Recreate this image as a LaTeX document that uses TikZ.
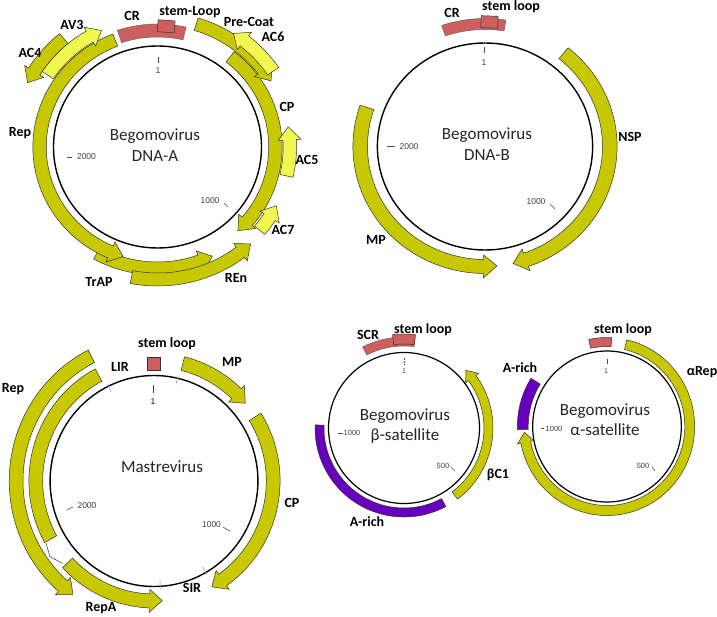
\documentclass[tikz,border=0pt]{standalone}
\usepackage{fontspec}
\setmainfont{Carlito}
\newfontfamily\numfont{Liberation Sans}
\definecolor{geneY}{RGB}{200,200,0}
\definecolor{geneL}{RGB}{240,248,80}
\definecolor{crRed}{RGB}{205,95,95}
\definecolor{aRich}{RGB}{102,0,190}
\def\ghead{13}
\def\gwing{4.5}
\newcommand\garrow[5]{%
  \pgfmathsetmacro\gRm{((#2)+(#3))/2}%
  \pgfmathsetmacro\gS{((#5)>(#4))?1:-1}%
  \pgfmathsetmacro\gC{(#5)-(\gS)*(\ghead)/(\gRm)*57.29578}%
  \pgfmathsetmacro\gIn{(#2)-(\gwing)}%
  \pgfmathsetmacro\gOut{(#3)+(\gwing)}%
  \draw[#1] (#4:#2) arc[start angle=#4,end angle=\gC,radius=#2] -- (\gC:\gIn) -- (#5:\gRm) -- (\gC:\gOut) -- (\gC:#3) arc[start angle=\gC,end angle=#4,radius=#3] -- cycle;}
\newcommand\gband[5]{%
  \draw[#1] (#4:#2) arc[start angle=#4,end angle=#5,radius=#2] -- (#5:#3) arc[start angle=#5,end angle=#4,radius=#3] -- cycle;}
\begin{document}
\begin{tikzpicture}[x=1pt,y=1pt,
 lab/.style={font=\fontsize{14}{16}\selectfont\bfseries,inner sep=0pt},
 ctr/.style={font=\fontsize{17}{21}\selectfont,text=black!85,align=center,inner sep=0pt},
 num/.style={font=\numfont\fontsize{8.5}{10}\selectfont,text=black!75,inner sep=0pt},
 gene/.style={fill=geneY,draw=black!80,line width=0.5pt},
 lgene/.style={fill=geneL,draw=black!80,line width=0.5pt},
 redf/.style={fill=crRed,draw=black!60,line width=0.5pt},
 arich/.style={fill=aRich,draw=black!80,line width=0.5pt},
 ring/.style={draw=black,line width=1.4pt},
 tk/.style={draw=black!70,line width=0.6pt},
 slbox/.style={fill=crRed,draw=black!80,line width=0.5pt,minimum width=17pt,minimum height=12pt,inner sep=0pt}]
\useasboundingbox (0,0) rectangle (717,-617);
\fill[white] (0,0) rectangle (717,-617);

% ---------------- DNA-A ----------------
\begin{scope}[shift={(157.5,-147)},xscale=1.03]
  \draw[ring] (0,0) circle[radius=101];
  \garrow{gene}{108}{121}{52}{-47}
  \garrow{gene}{122}{135}{73}{31}
  \garrow{lgene}{129}{142}{34}{57}
  \garrow{lgene}{122}{135}{-13}{9}
  \garrow{lgene}{123}{136}{-40}{-27}
  \garrow{gene}{115}{128}{241}{296}
  \garrow{gene}{108}{121}{111}{253}
  \garrow{gene}{126}{139}{259}{313}
  \garrow{gene}{135}{148}{130}{153}
  \garrow{lgene}{122}{135}{146}{115}
  \gband{redf}{110}{123}{77}{108.5}
  \node[slbox,rotate=-4] (aslb) at (86:121) {};
\end{scope}
\node[lab] (acr) at (132,-16) {CR};
\node[lab] (asl) at (190,-12) {stem-Loop};
\node[lab] (aav3) at (72,-25) {AV3};
\node[lab] (aac4) at (30,-53) {AC4};
\node[lab] (apc) at (249,-22) {Pre-Coat};
\node[lab] (aac6) at (273,-37) {AC6};
\node[lab] (acp) at (287,-107) {CP};
\node[lab] (aac5) at (307,-160) {AC5};
\node[lab] (aac7) at (283,-230) {AC7};
\node[lab] (aren) at (236,-278) {REn};
\node[lab] (atrap) at (99,-282) {TrAP};
\node[lab] (arep) at (20,-133) {Rep};
\node[ctr] (aname) at (155,-145) {Begomovirus\\DNA-A};
\draw[tk] (158,-57) -- (158,-63);
\node[num] (a1) at (158,-71) {1};
\draw[tk] (67,-157) -- (72,-157);
\node[num] (a2000) at (86.5,-157) {2000};
\draw[tk] (224,-203) -- (228,-207);
\node[num] (a1000) at (210,-201) {1000};

% ---------------- DNA-B ----------------
\begin{scope}[shift={(485,-146.5)},xscale=1.04]
  \draw[ring] (0,0) circle[radius=103.5];
  \garrow{gene}{113}{127}{161}{275.5}
  \garrow{gene}{113}{127}{51}{-77}
  \gband{redf}{117}{128}{81}{109}
  \node[slbox,rotate=-2] (bslb) at (88:124.6) {};
\end{scope}
\node[lab] (bcr) at (452,-13) {CR};
\node[lab] (bsl) at (511,-7) {stem loop};
\node[lab] (bnsp) at (630,-137) {NSP};
\node[lab] (bmp) at (376,-240) {MP};
\node[ctr] (bname) at (487,-144) {Begomovirus\\DNA-B};
\draw[tk] (484,-47) -- (484,-53);
\node[num] (b1) at (484,-63) {1};
\draw[tk] (387,-146) -- (395,-146);
\node[num] (b2000) at (409,-147) {2000};
\draw[tk] (550,-204) -- (555,-209);
\node[num] (b1000) at (536,-202) {1000};

% ---------------- Mastrevirus ----------------
\begin{scope}[shift={(154,-481)},xscale=0.985]
  \draw[ring] (0,0) circle[radius=105.5];
  \foreach \a in {116,77,-60,-86.5} \draw[draw=black!35,line width=0.6pt] (\a:99) -- (\a:108);
  \garrow{gene}{114}{128}{76}{40}
  \garrow{gene}{114}{128}{32}{-61}
  \garrow{gene}{133}{147}{117}{234}
  \gband{gene}{113}{127}{118}{209}
  \garrow{gene}{113}{127}{223}{274}
  \draw[black!80,line width=0.5pt] (209.6:126) -- (215.6:130) -- (221.7:124);
  \node[slbox,minimum width=13pt,minimum height=13pt] (mslb) at (90:117.5) {};
\end{scope}
\node[lab] (msl) at (167,-344) {stem loop};
\node[lab] (mlir) at (120,-367) {LIR};
\node[lab] (mmp) at (232,-362) {MP};
\node[lab] (mcp) at (292,-503) {CP};
\node[lab] (msir) at (192,-588) {SIR};
\node[lab] (mrepa) at (101,-608) {RepA};
\node[lab] (mrep) at (13,-389) {Rep};
\node[ctr] (mname) at (162,-467) {Mastrevirus};
\draw[tk] (153,-385) -- (153,-393);
\node[num,text=blue!50!black] (m1) at (153,-402) {1};
\draw[tk] (67,-510) -- (73,-507);
\node[num] (m2000) at (87,-506) {2000};
\draw[tk] (223,-527) -- (230,-531);
\node[num] (m1000) at (211.5,-525) {1000};

% ---------------- beta-satellite ----------------
\def\ghead{10}\def\gwing{3.5}
\begin{scope}[shift={(404,-428)}]
  \draw[ring,line width=1.2pt] (0,0) circle[radius=75.5];
  \gband{redf}{82}{91}{83}{117}
  \gband{redf,draw=black!80}{84}{94}{83}{97}
  \garrow{gene}{80}{89}{-53}{43}
  \gband{arich}{80}{89}{178}{298}
\end{scope}
\node[lab] (sscr) at (368,-335) {SCR};
\node[lab] (ssl) at (423,-330) {stem loop};
\node[lab] (sbc1) at (498,-475) {βC1};
\node[lab] (sar) at (367,-522) {A-rich};
\node[ctr,font=\fontsize{17}{20}\selectfont] (sname) at (405,-426) {Begomovirus\\β-satellite};
\draw[tk,dashed,dash pattern=on 2pt off 1pt] (404,-358) -- (404,-365);
\node[num,font=\numfont\fontsize{7}{8}\selectfont] (s1) at (404,-371) {1};
\draw[tk] (338,-433) -- (343,-433);
\node[num,font=\numfont\fontsize{7.5}{8}\selectfont] (s1000) at (352,-433) {1000};
\draw[tk] (451,-467) -- (455,-471);
\node[num,font=\numfont\fontsize{7.5}{8}\selectfont] (s500) at (443,-466) {500};

% ---------------- alpha-satellite ----------------
\begin{scope}[shift={(607,-426.5)},xscale=0.985]
  \draw[ring,line width=1.2pt] (0,0) circle[radius=75.5];
  \garrow{gene}{79}{89}{77}{-176}
  \gband{arich}{80}{91}{148}{182}
  \gband{redf,draw=black!80}{80}{89}{87}{102}
\end{scope}
\node[lab] (rsl) at (623,-330) {stem loop};
\node[lab] (rrep) at (702,-372) {αRep};
\node[lab] (rar) at (520,-368) {A-rich};
\node[ctr,font=\fontsize{17}{20}\selectfont] (rname) at (605,-420) {Begomovirus\\α-satellite};
\draw[tk] (607,-359) -- (607,-364);
\node[num,font=\numfont\fontsize{7}{8}\selectfont] (r1) at (606,-371) {1};
\draw[tk] (541,-428) -- (544,-428);
\node[num,font=\numfont\fontsize{7.5}{8}\selectfont] (r1000) at (554,-429) {1000};
\draw[tk] (652,-467) -- (655,-471);
\node[num,font=\numfont\fontsize{7.5}{8}\selectfont] (r500) at (643,-466) {500};
\end{tikzpicture}
\end{document}
